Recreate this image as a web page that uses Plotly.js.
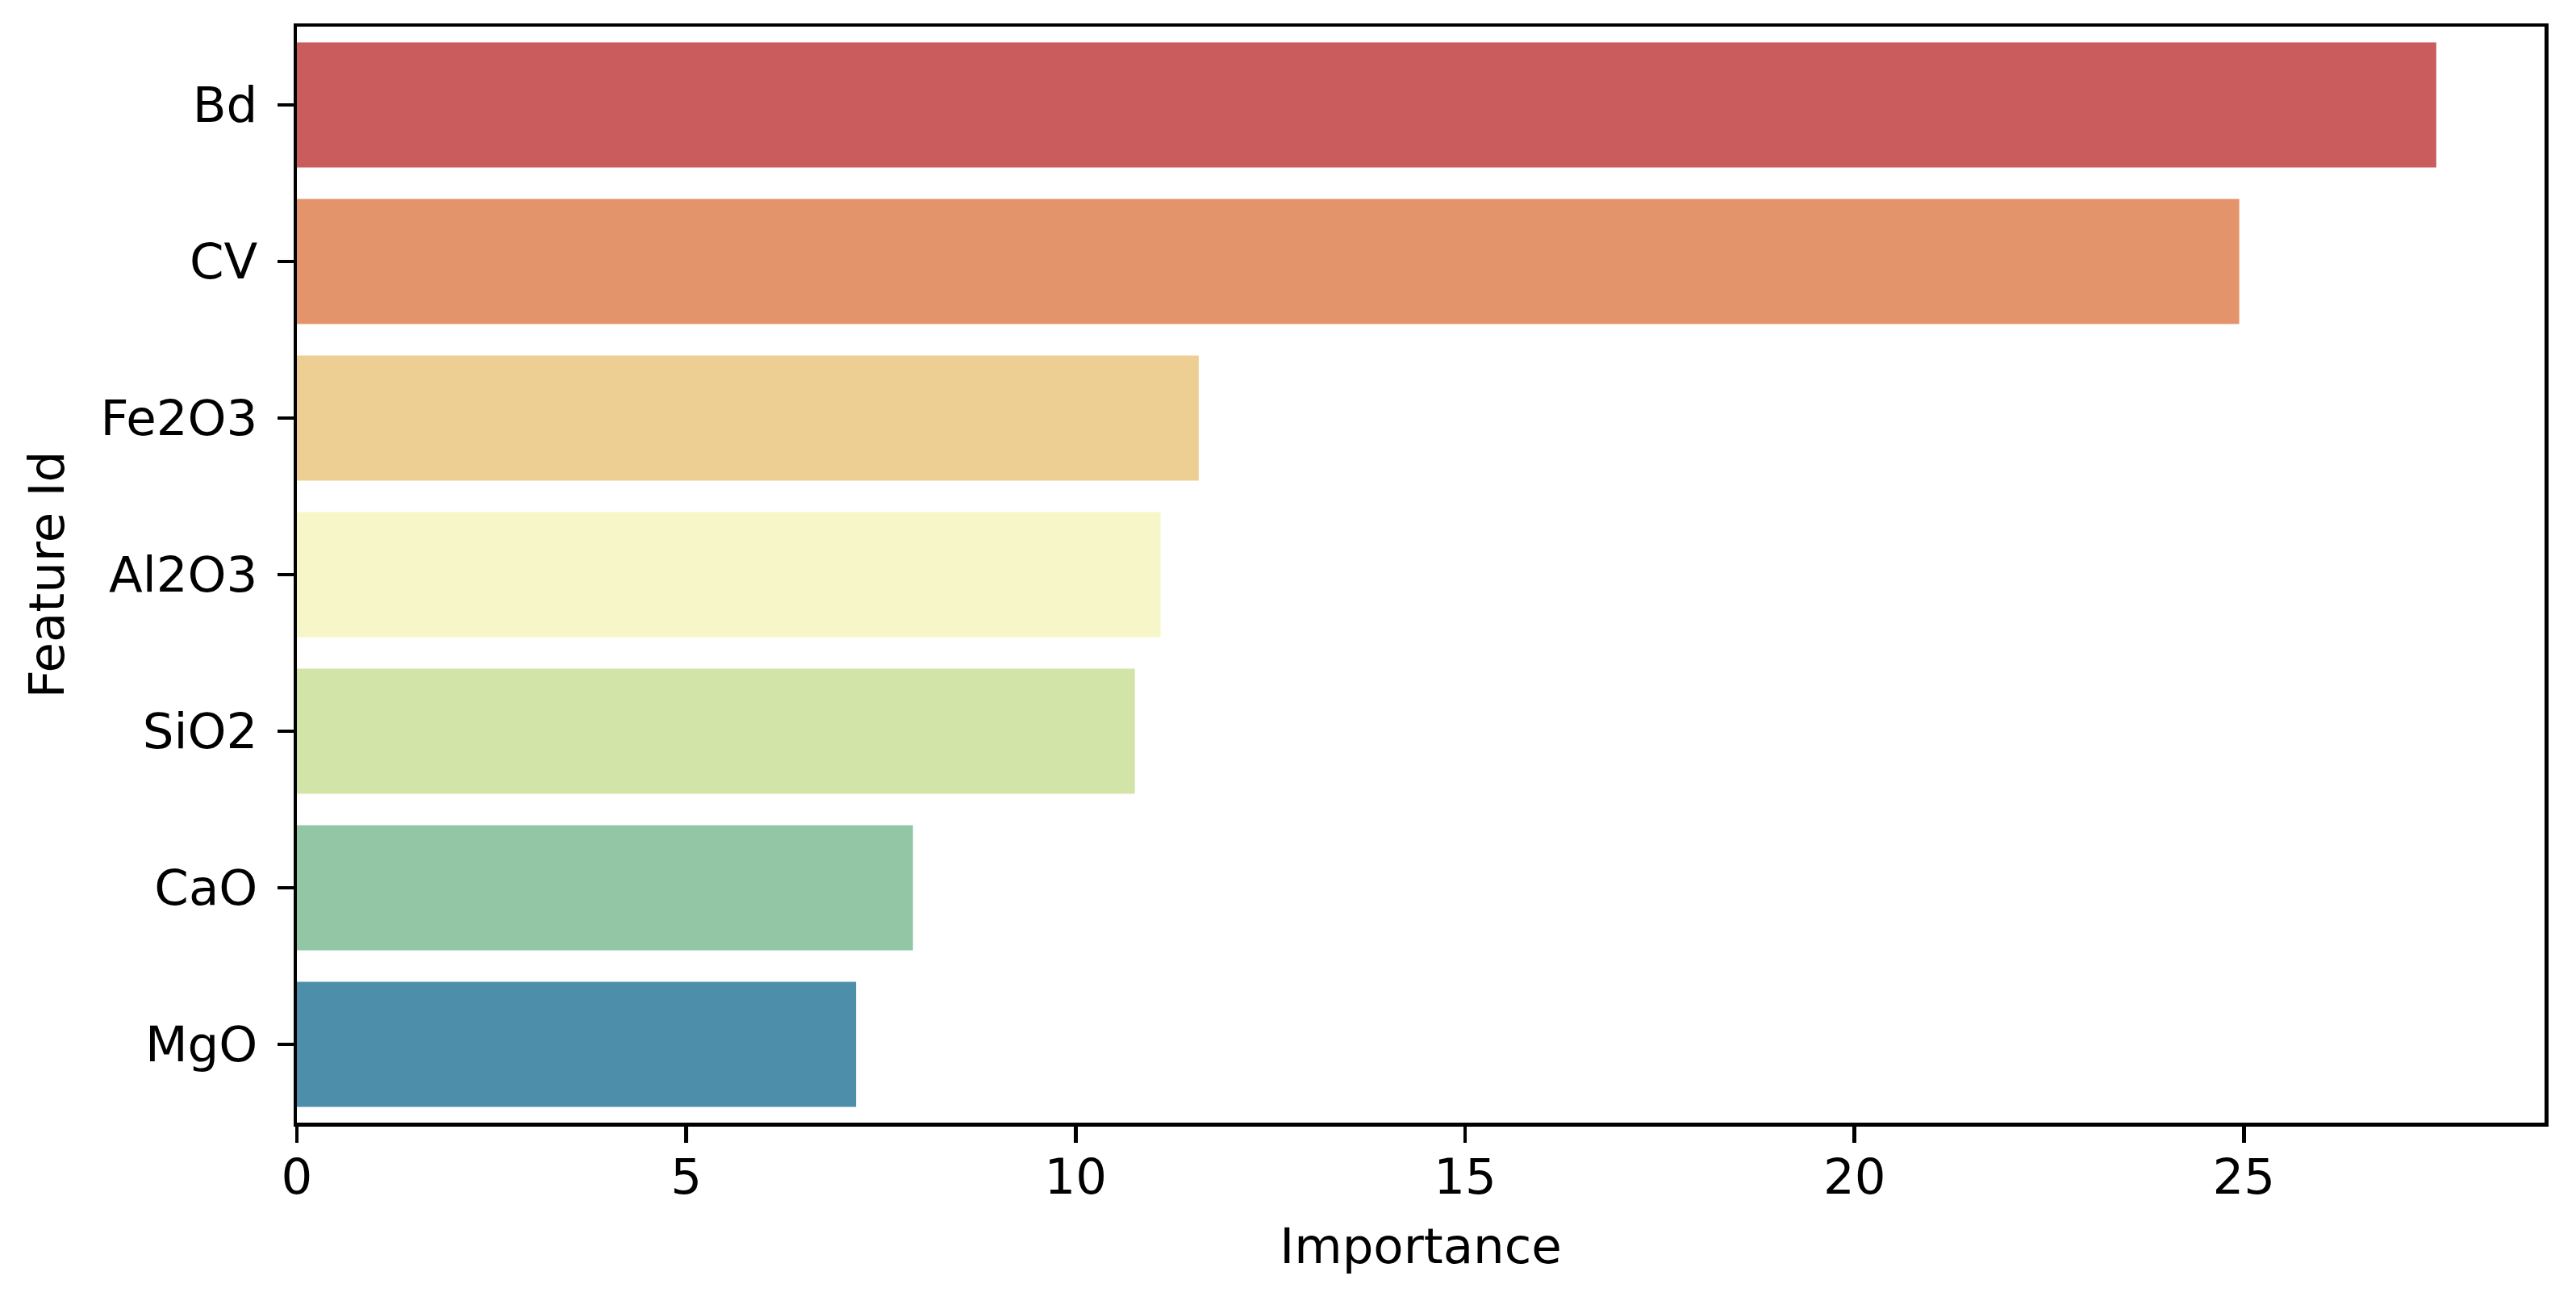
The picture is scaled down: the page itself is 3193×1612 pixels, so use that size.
<!DOCTYPE html>
<html>
<head>
<meta charset="utf-8">
<script src="https://cdn.plot.ly/plotly-3.0.1.min.js"></script>
<style>html,body{margin:0;padding:0;background:#fff;}#chart{width:3193px;height:1612px;}</style>
</head>
<body>
<div id="chart"></div>
<script>
const features = ["Bd", "CV", "Fe2O3", "Al2O3", "SiO2", "CaO", "MgO"];
const importance = [27.47, 24.94, 11.58, 11.09, 10.76, 7.91, 7.18];
const barColors = ["#CA5C5E", "#E4946A", "#EDCE93", "#F6F6C8", "#D3E4A8", "#92C6A5", "#4D8FAA"];
const xTicks = [0, 5, 10, 15, 20, 25];

const FONT = "DejaVu Sans, Liberation Sans, sans-serif";

const trace = {
  type: "bar",
  orientation: "h",
  x: importance,
  y: features,
  marker: { color: barColors, line: { width: 0 } },
  hoverinfo: "x+y"
};

const axisCommon = {
  showline: true,
  linecolor: "#000",
  linewidth: 4.5,
  mirror: true,
  ticks: "outside",
  ticklen: 20,
  tickwidth: 4.4,
  tickcolor: "#000",
  showgrid: false,
  zeroline: false,
  tickfont: { family: FONT, size: 61, color: "#000" }
};

const layout = {
  width: 3193,
  height: 1612,
  margin: { l: 368, r: 39, t: 33, b: 221, pad: 0 },
  paper_bgcolor: "#fff",
  plot_bgcolor: "#fff",
  font: { family: FONT, size: 61, color: "#000" },
  bargap: 0.2,
  showlegend: false,
  xaxis: Object.assign({}, axisCommon, {
    range: [0, 28.86],
    tickmode: "array",
    tickvals: xTicks,
    ticktext: xTicks.map(String),
    ticklabelstandoff: -10,
    title: { text: "Importance", font: { family: FONT, size: 61, color: "#000" }, standoff: 32 }
  }),
  yaxis: Object.assign({}, axisCommon, {
    type: "category",
    categoryorder: "array",
    categoryarray: features,
    range: [6.5, -0.5],
    ticklabelstandoff: 12,
    title: { text: "Feature Id", font: { family: FONT, size: 61, color: "#000" }, standoff: 26 }
  })
};

Plotly.newPlot("chart", [trace], layout, { displayModeBar: false, staticPlot: true });
</script>
</body>
</html>
